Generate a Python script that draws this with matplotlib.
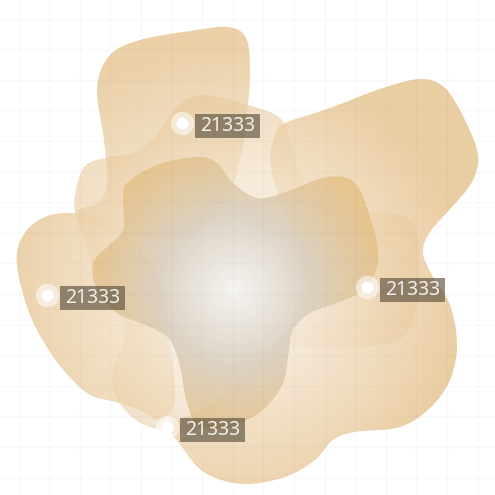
import numpy as np
import matplotlib
matplotlib.use("Agg")
import matplotlib.pyplot as plt
from matplotlib.path import Path
from matplotlib.patches import PathPatch, Rectangle

# marked points and their values
point_x = [182, 47, 367, 167]
point_y = [123, 295, 287, 427]
point_values = [21333, 21333, 21333, 21333]

# blob outlines (canvas units, y downwards)
tall_x = [97, 110, 140, 190, 228, 246, 250, 247, 240, 225, 190, 140, 100, 78, 100, 107, 104]
tall_y = [88, 55, 40, 31, 27, 38, 70, 115, 160, 205, 235, 240, 228, 211, 202, 180, 140]

wide_x = [75, 85, 110, 135, 155, 178, 203, 245, 280, 291, 303, 325, 355, 390, 413, 419, 418, 410, 390, 340,
          290, 262, 245, 225, 190, 160, 133, 115, 113, 125, 115, 95, 85, 76]
wide_y = [195, 166, 157, 152, 137, 106, 95, 104, 118, 145, 180, 206, 213, 213, 224, 255, 295, 328, 343, 348,
          347, 358, 385, 408, 430, 430, 418, 395, 370, 335, 300, 270, 240, 218]

right_x = [285, 330, 380, 420, 445, 465, 478, 472, 452, 430, 423, 432, 450, 457, 450, 430, 400, 355, 333, 315,
           285, 243, 205, 182, 170, 200, 245, 290, 300, 280, 270, 276]
right_y = [123, 108, 89, 79, 88, 120, 155, 182, 207, 232, 252, 275, 305, 345, 380, 408, 427, 432, 440, 460,
           477, 484, 473, 447, 425, 410, 375, 320, 250, 200, 160, 133]

left_x = [17, 27, 45, 70, 110, 150, 165, 170, 175, 160, 140, 115, 87, 57, 33, 20]
left_y = [252, 230, 217, 213, 220, 260, 300, 340, 400, 420, 410, 402, 393, 362, 322, 282]

core_x = [127, 157, 197, 217, 233, 257, 283, 323, 347, 360, 370, 377, 377, 363, 337, 310, 293, 288, 283, 263,
          230, 200, 187, 180, 170, 150, 117, 97, 93, 107, 123, 123]
core_y = [183, 165, 157, 163, 183, 198, 193, 178, 178, 190, 217, 243, 267, 290, 303, 313, 330, 357, 383, 410,
          427, 427, 403, 367, 340, 327, 313, 290, 263, 247, 230, 200]

W = 495
cx, cy = 235, 290  # shared gradient centre


def smooth_path(xs, ys):
    pts = np.column_stack([xs, ys]).astype(float)
    n = len(pts)
    verts = [pts[0]]
    codes = [Path.MOVETO]
    for i in range(n):
        p0, p1, p2, p3 = pts[i - 1], pts[i], pts[(i + 1) % n], pts[(i + 2) % n]
        c1 = p1 + (p2 - p0) / 6
        c2 = p2 - (p3 - p1) / 6
        verts += [c1, c2, p2]
        codes += [Path.CURVE4] * 3
    return Path(verts, codes)


gx, gy = np.meshgrid(np.arange(W) + 0.5, np.arange(W) + 0.5)
dist = np.hypot(gx - cx, gy - cy)


def gradient(stops, colors, radius, alpha):
    t = np.clip(dist / radius, 0, 1)
    img = np.zeros((W, W, 4))
    for k in range(3):
        img[..., k] = np.interp(t, stops, [c[k] for c in colors]) / 255
    img[..., 3] = alpha
    return img


fig = plt.figure(figsize=(4.95, 4.95), dpi=100)
ax = fig.add_axes([0, 0, 1, 1])
ax.set_xlim(0, W)
ax.set_ylim(W, 0)
ax.axis("off")

for g in np.arange(18.5, W, 30.6):
    ax.axvline(g, color="#808080", alpha=0.045, lw=1, zorder=3)
    ax.axhline(g, color="#808080", alpha=0.045, lw=1, zorder=3)

cream = (252, 248, 242)
tan = (231, 197, 147)
light = ([0, 1], [cream, tan])
blobs = [
    (right_x, right_y, light, 230, 0.85),
    (left_x, left_y, light, 230, 0.8),
    (tall_x, tall_y, light, 250, 0.8),
    (wide_x, wide_y, light, 210, 0.6),
    (core_x, core_y, ([0, 0.5, 1], [(243, 242, 240), (212, 202, 186), (228, 190, 128)]), 150, 0.75),
]
for z, (bx, by, (stops, cols), rad, alp) in enumerate(blobs):
    patch = PathPatch(smooth_path(bx, by), facecolor="none", edgecolor="none",
                      transform=ax.transData)
    ax.add_patch(patch)
    im = ax.imshow(gradient(stops, cols, rad, alp), extent=(0, W, W, 0),
                   interpolation="bilinear", zorder=1 + z * 0.01)
    im.set_clip_path(patch)

ax.scatter(point_x, point_y, s=283, color="white", alpha=0.55, lw=0, zorder=5)
ax.scatter(point_x, point_y, s=75, color="white", lw=0, zorder=6)
for x, y, v in zip(point_x, point_y, point_values):
    ax.add_patch(Rectangle((x + 13, y - 9), 65, 24, fc=(0.33, 0.29, 0.22, 0.62),
                           ec="none", zorder=7))
    ax.text(x + 45.5, y + 3, str(v), fontsize=14, family="Noto Sans",
            color="#f3f0ea", ha="center", va="center", zorder=8)

fig.savefig("out.png", dpi=100)
